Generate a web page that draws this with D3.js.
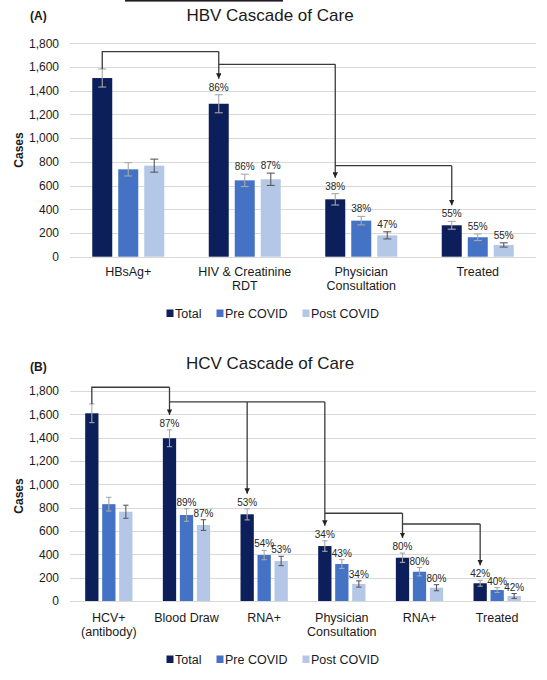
<!DOCTYPE html>
<html><head><meta charset="utf-8">
<script src="https://cdn.jsdelivr.net/npm/d3@7"></script>
<style>
html,body{margin:0;padding:0;background:#fff;}
svg{display:block;font-family:"Liberation Sans",Arial,sans-serif;}
</style></head>
<body>
<svg id="chart" width="547" height="680"></svg>
<script>
// ---------- Data ----------
const seriesNames = ["Total", "Pre COVID", "Post COVID"];
const yTicks = [0, 200, 400, 600, 800, 1000, 1200, 1400, 1600, 1800];

// Panel A: HBV
const hbvCategories = [["HBsAg+"], ["HIV & Creatinine", "RDT"], ["Physician", "Consultation"], ["Treated"]];
const hbvTotal = [1507, 1290, 484, 265];
const hbvPre   = [737, 644, 304, 164];
const hbvPost  = [768, 653, 180, 99];
const hbvTotalErr = [76, 76, 48, 33];
const hbvPreErr   = [56, 52, 36, 28];
const hbvPostErr  = [55, 52, 30, 18];
const hbvTotalPct = [null, "86%", "38%", "55%"];
const hbvPrePct   = [null, "86%", "38%", "55%"];
const hbvPostPct  = [null, "87%", "47%", "55%"];
const hbvLinks = [
  {from: 0, to: [1], level: 1730},
  {from: 1, to: [2], level: 1623},
  {from: 2, to: [3], level: 768}
];

// Panel B: HCV
const hcvCategories = [["HCV+", "(antibody)"], ["Blood Draw"], ["RNA+"], ["Physician", "Consultation"], ["RNA+"], ["Treated"]];
const hcvTotal = [1609, 1395, 743, 471, 371, 152];
const hcvPre   = [830, 737, 394, 317, 251, 94];
const hcvPost  = [765, 651, 343, 146, 114, 43];
const hcvTotalErr = [80, 72, 48, 45, 40, 25];
const hcvPreErr   = [59, 54, 40, 38, 36, 21];
const hcvPostErr  = [56, 46, 40, 27, 26, 21];
const hcvTotalPct = [null, "87%", "53%", "34%", "80%", "42%"];
const hcvPrePct   = [null, "89%", "54%", "43%", "80%", "40%"];
const hcvPostPct  = [null, "87%", "53%", "34%", "80%", "42%"];
const hcvLinks = [
  {from: 0, to: [1], level: 1832},
  {from: 1, to: [2, 3], level: 1706},
  {from: 3, to: [4], level: 752},
  {from: 4, to: [5], level: 660}
];

// ---------- Styles ----------
const colors = ["#0c1f5b", "#4472c4", "#b4c7e7"];
const errColors = ["#a8a8a8", "#a8a8a8", "#5a5a5a"];

const svg = d3.select("#chart");
const defs = svg.append("defs");
defs.append("marker").attr("id", "arrow").attr("viewBox", "0 0 10 10")
  .attr("refX", 10).attr("refY", 5).attr("markerWidth", 4.2).attr("markerHeight", 4.2)
  .attr("markerUnits", "strokeWidth").attr("orient", "auto")
  .append("path").attr("d", "M0,0 L10,5 L0,10 z").attr("fill", "#222");

// decorative dark strip at the very top of the image
svg.append("rect").attr("x", 125).attr("y", 0).attr("width", 158).attr("height", 1.6).attr("fill", "#241c24");

function panel(cfg) {
  const g = svg.append("g");
  const x = d3.scaleBand().domain(d3.range(cfg.cats.length)).range([70, 536]).padding(0);
  const y = d3.scaleLinear().domain([0, 1800]).range([cfg.y0, cfg.y1]);
  const gw = cfg.groupFrac * x.bandwidth();
  const x1 = d3.scaleBand().domain(d3.range(3))
    .range([x.bandwidth() / 2 - gw / 2, x.bandwidth() / 2 + gw / 2])
    .paddingInner(cfg.innerPad).paddingOuter(0);

  // gridlines
  g.append("g").selectAll("line").data(yTicks).join("line")
    .attr("x1", 70).attr("x2", 536)
    .attr("y1", d => Math.round(y(d)) + 0.5).attr("y2", d => Math.round(y(d)) + 0.5)
    .attr("stroke", "#d9d9d9").attr("stroke-width", 1.2);

  // y axis labels
  const yAxis = d3.axisLeft(y).tickValues(yTicks).tickFormat(d3.format(",")).tickSize(0).tickPadding(0);
  const ya = g.append("g").attr("transform", "translate(59,0)").call(yAxis);
  ya.select(".domain").remove();
  ya.selectAll("text").attr("font-size", 12).attr("fill", "#1a1a1a")
    .attr("font-family", "Liberation Sans, Arial, sans-serif");

  // y label
  g.append("text").attr("transform", `translate(22.5,${(cfg.y0 + cfg.y1) / 2}) rotate(-90)`)
    .attr("text-anchor", "middle").attr("font-size", 12).attr("font-weight", "bold").attr("fill", "#1a1a1a")
    .text("Cases");

  // panel tag and title
  g.append("text").attr("x", 30).attr("y", cfg.tagY).attr("font-size", 12).attr("font-weight", "bold")
    .attr("fill", "#1a1a1a").text(cfg.tag);
  g.append("text").attr("x", 270).attr("y", cfg.titleY).attr("text-anchor", "middle")
    .attr("font-size", 17).attr("fill", "#1a1a1a").text(cfg.title);

  const series = [
    {vals: cfg.total, errs: cfg.totalErr, pct: cfg.totalPct},
    {vals: cfg.pre, errs: cfg.preErr, pct: cfg.prePct},
    {vals: cfg.post, errs: cfg.postErr, pct: cfg.postPct}
  ];

  const bars = g.append("g");
  series.forEach((s, si) => {
    const rows = s.vals.map((v, i) => ({i, v, e: s.errs[i], p: s.pct[i]}));
    const cx = d => x(d.i) + x1(si) + x1.bandwidth() / 2;
    bars.selectAll(null).data(rows).join("rect")
      .attr("x", d => x(d.i) + x1(si)).attr("width", x1.bandwidth())
      .attr("y", d => y(d.v)).attr("height", d => y(0) - y(d.v))
      .attr("fill", colors[si]);
    const cap = x1.bandwidth() * 0.4;
    const eg = bars.append("g").attr("stroke", errColors[si]).attr("stroke-width", 1.1);
    eg.selectAll(null).data(rows).join("line")
      .attr("x1", cx).attr("x2", cx).attr("y1", d => y(d.v + d.e)).attr("y2", d => y(d.v - d.e));
    eg.selectAll(null).data(rows).join("line")
      .attr("x1", d => cx(d) - cap / 2).attr("x2", d => cx(d) + cap / 2)
      .attr("y1", d => y(d.v + d.e)).attr("y2", d => y(d.v + d.e));
    eg.selectAll(null).data(rows).join("line")
      .attr("x1", d => cx(d) - cap / 2).attr("x2", d => cx(d) + cap / 2)
      .attr("y1", d => y(d.v - d.e)).attr("y2", d => y(d.v - d.e));
    bars.selectAll(null).data(rows.filter(d => d.p)).join("text")
      .attr("x", cx).attr("y", d => y(d.v + d.e) - cfg.pctGap)
      .attr("text-anchor", "middle").attr("font-size", 10).attr("fill", "#262626")
      .text(d => d.p);
  });

  // connectors
  const tx = i => x(i) + x1(0) + x1.bandwidth() / 2;
  const tipY = i => y(cfg.total[i] + cfg.totalErr[i]) - cfg.pctGap - 12;
  const lg = g.append("g").attr("stroke", "#3a3a3a").attr("stroke-width", 1.3).attr("fill", "none");
  cfg.links.forEach(l => {
    const ly = y(l.level);
    const last = l.to[l.to.length - 1];
    if (l.from === 0) {
      lg.append("path").attr("d", `M${tx(0)},${y(cfg.total[0] + cfg.totalErr[0])}V${ly}H${tx(last)}`);
    } else {
      lg.append("path").attr("d", `M${tx(l.from)},${ly}H${tx(last)}`);
    }
    l.to.forEach(t => {
      lg.append("path").attr("d", `M${tx(t)},${ly}V${tipY(t)}`).attr("marker-end", "url(#arrow)");
    });
  });

  // category labels
  const cl = g.append("g");
  cfg.cats.forEach((lines, i) => {
    const t = cl.append("text").attr("text-anchor", "middle").attr("font-size", 12.5).attr("fill", "#1a1a1a");
    lines.forEach((ln, k) => {
      t.append("tspan").attr("x", x(i) + x.bandwidth() / 2).attr("y", cfg.catY + k * 14).text(ln);
    });
  });

  // legend
  const legX = [166.5, 216.5, 302.5];
  const lgd = g.append("g");
  seriesNames.forEach((n, i) => {
    lgd.append("rect").attr("x", legX[i]).attr("y", cfg.legY - 8.5).attr("width", 7).attr("height", 7.5).attr("fill", colors[i]);
    lgd.append("text").attr("x", legX[i] + 8.5).attr("y", cfg.legY).attr("font-size", 12.5).attr("fill", "#1a1a1a").text(n);
  });
}

panel({
  cats: hbvCategories, total: hbvTotal, pre: hbvPre, post: hbvPost,
  totalErr: hbvTotalErr, preErr: hbvPreErr, postErr: hbvPostErr,
  totalPct: hbvTotalPct, prePct: hbvPrePct, postPct: hbvPostPct, links: hbvLinks,
  y0: 256.7, y1: 43.3, groupFrac: 0.618, innerPad: 0.2308, pctGap: 4,
  tag: "(A)", tagY: 20, title: "HBV Cascade of Care", titleY: 21,
  catY: 276, legY: 318
});
panel({
  cats: hcvCategories, total: hcvTotal, pre: hcvPre, post: hcvPost,
  totalErr: hcvTotalErr, preErr: hcvPreErr, postErr: hcvPostErr,
  totalPct: hcvTotalPct, prePct: hcvPrePct, postPct: hcvPostPct, links: hcvLinks,
  y0: 601, y1: 391, groupFrac: 0.609, innerPad: 0.218, pctGap: 3,
  tag: "(B)", tagY: 371, title: "HCV Cascade of Care", titleY: 369,
  catY: 622, legY: 664
});
</script>
</body></html>
